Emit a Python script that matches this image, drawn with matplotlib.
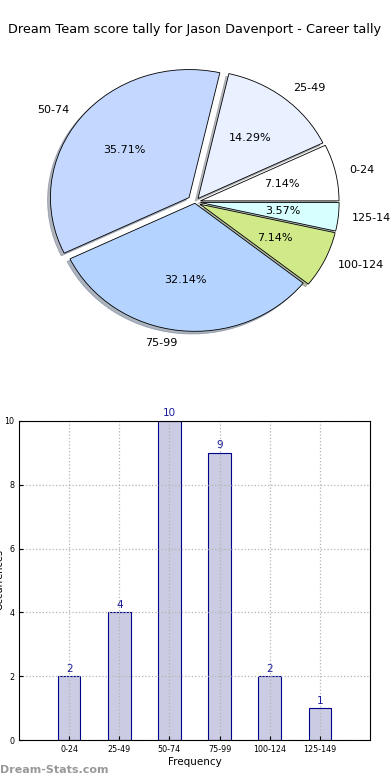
import matplotlib
matplotlib.use('Agg')
import matplotlib.pyplot as plt

# data
ranges = ['0-24', '25-49', '50-74', '75-99', '100-124', '125-149']
counts = [2, 4, 10, 9, 2, 1]
pie_colors = ['#ffffff', '#e9f0ff', '#c4d8ff', '#b4d4ff', '#d0ea8a', '#d8ffff']
explode = [0.04, 0.035, 0.055, 0.01, 0.04, 0.04]
yticks = [0, 2, 4, 6, 8, 10]

fig = plt.figure(figsize=(3.9, 7.8), dpi=100)
fig.text(0.5, 1 - 30/780, 'Dream Team score tally for Jason Davenport - Career tally',
         ha='center', va='center', fontsize=9.3)

# pie (not equal aspect, like the old one)
ax1 = fig.add_axes([6.5/390, 1 - (202 + 171.6)/780, 377/390, 343.2/780])
wedges, texts, autotexts = ax1.pie(counts, labels=ranges, colors=pie_colors, explode=explode,
                                   autopct='%1.2f%%', startangle=0,
                                   shadow={'ox': -0.015, 'oy': -0.015, 'shade': 0.5},
                                   wedgeprops={'edgecolor': 'black', 'linewidth': 0.6},
                                   textprops={'fontsize': 8})
ax1.set_aspect('auto')
ax1.set_xlim(-1.36, 1.36)
ax1.set_ylim(-1.34, 1.34)
ax1.axis('off')
for t in texts:
    t.set_clip_on(False)

# bar chart
ax2 = fig.add_axes([19/390, 40/780, 351/390, 319/780])
x = list(range(len(ranges)))
bars = ax2.bar(x, counts, width=0.45, color='#cbcbe3', edgecolor='#00008b', linewidth=0.8, zorder=2)
for xi, c in zip(x, counts):
    ax2.text(xi, c + 0.08, str(c), ha='center', va='bottom', color='#1a1a9a', fontsize=7.5)
ax2.set_xlim(-1, 6)
ax2.set_ylim(0, 10)
ax2.set_xticks(x)
ax2.set_xticklabels(ranges)
ax2.set_yticks(yticks)
ax2.tick_params(direction='in', labelsize=5.8, length=3)
ax2.grid(True, linestyle=':', color='#b4b4b4', linewidth=0.9, zorder=3)
ax2.set_axisbelow(False)
for s in ax2.spines.values():
    s.set_zorder(5)
ax2.set_xlabel('Frequency', fontsize=7.5, labelpad=2)
fig.text(0.0, 1 - 580/780, 'Occurrences', rotation=90, ha='center', va='center', fontsize=7)

fig.text(0.0, 1 - 770/780, 'Dream-Stats.com', ha='left', va='center', fontsize=8,
         color='#999999', fontweight='bold')

fig.savefig('out.png', dpi=100)
